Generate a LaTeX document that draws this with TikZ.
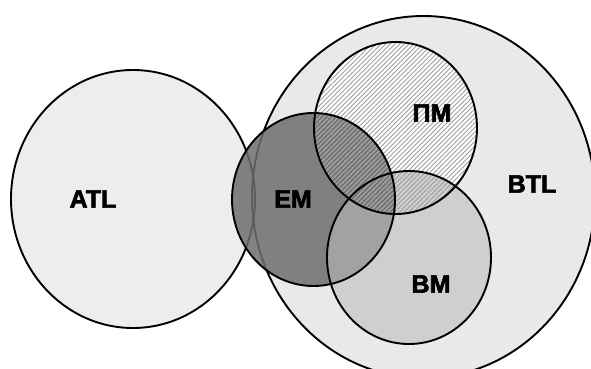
\documentclass[tikz,border=0pt]{standalone}
\usepackage{fontspec}
\setmainfont{Liberation Sans}
\newfontfamily\heavyfont[FakeBold=2.5]{Liberation Sans Bold}
\usetikzlibrary{patterns.meta}
\definecolor{atlgray}{HTML}{EEEEEE}
\definecolor{btlgray}{HTML}{EAEAEA}
\definecolor{bmgray}{HTML}{CFCFCF}
\definecolor{emgray}{HTML}{6E6E6E}
\definecolor{embm}{HTML}{A2A2A2}
\definecolor{empm}{HTML}{9A9A9A}
\begin{document}
\begin{tikzpicture}[x=1pt,y=-1pt,
  outline/.style={draw=black,line width=1.9pt},
  texture/.style={pattern={Dots[distance=3pt,radius=0.45pt]},pattern color=black!14},
  hatchlight/.style={pattern={Lines[angle=45,distance=3.3pt,line width=0.9pt]},pattern color=black!38},
  hatchdark/.style={pattern={Lines[angle=45,distance=3.3pt,line width=0.9pt]},pattern color=black!62},
  lbl/.style={font=\heavyfont\fontsize{25}{25}\selectfont,inner sep=0pt}]
\useasboundingbox (0,0) rectangle (591,369);
\fill[white] (0,0) rectangle (591,369);
% centres
\coordinate (cBTL) at (423.5,197);
\coordinate (cATL) at (133,199);
\coordinate (cPM) at (395.5,128);
\coordinate (cEM) at (313.5,199.5);
\coordinate (cBM) at (409,257.5);
% BTL and ATL
\fill[btlgray] (cBTL) ellipse [x radius=171.5, y radius=181];
\fill[texture] (cBTL) ellipse [x radius=171.5, y radius=181];
\fill[atlgray] (cATL) ellipse [x radius=122, y radius=129];
\fill[texture] (cATL) ellipse [x radius=122, y radius=129];
\draw[outline] (cBTL) ellipse [x radius=171.5, y radius=181];
\draw[outline] (cATL) ellipse [x radius=122, y radius=129];
% BM
\fill[bmgray] (cBM) ellipse [x radius=82, y radius=86.5];
% PM
\fill[white] (cPM) ellipse [x radius=81.5, y radius=86];
\begin{scope}
  \clip (cPM) ellipse [x radius=81.5, y radius=86];
  \fill[bmgray] (cBM) ellipse [x radius=82, y radius=86.5];
\end{scope}
\fill[texture] (cBM) ellipse [x radius=82, y radius=86.5];
% EM
\fill[emgray,opacity=0.85] (cEM) ellipse [x radius=81.5, y radius=86.5];
\begin{scope}
  \clip (cEM) ellipse [x radius=81.5, y radius=86.5];
  \fill[embm] (cBM) ellipse [x radius=82, y radius=86.5];
  \fill[empm] (cPM) ellipse [x radius=81.5, y radius=86];
\end{scope}
% hatching of PM
\fill[hatchlight] (cPM) ellipse [x radius=81.5, y radius=86];
\begin{scope}
  \clip (cEM) ellipse [x radius=81.5, y radius=86.5];
  \fill[hatchdark] (cPM) ellipse [x radius=81.5, y radius=86];
\end{scope}
% outlines
\draw[outline] (cBM) ellipse [x radius=82, y radius=86.5];
\draw[outline] (cPM) ellipse [x radius=81.5, y radius=86];
\draw[outline] (cEM) ellipse [x radius=81.5, y radius=86.5];
% labels
\node[lbl] (atl) at (93,199) {ATL};
\node[lbl] (em) at (293,199) {EM};
\node[lbl] (pm) at (432,113) {ПМ};
\node[lbl] (btl) at (532,184) {BTL};
\node[lbl] (bm) at (431,284) {BM};
\end{tikzpicture}
\end{document}
